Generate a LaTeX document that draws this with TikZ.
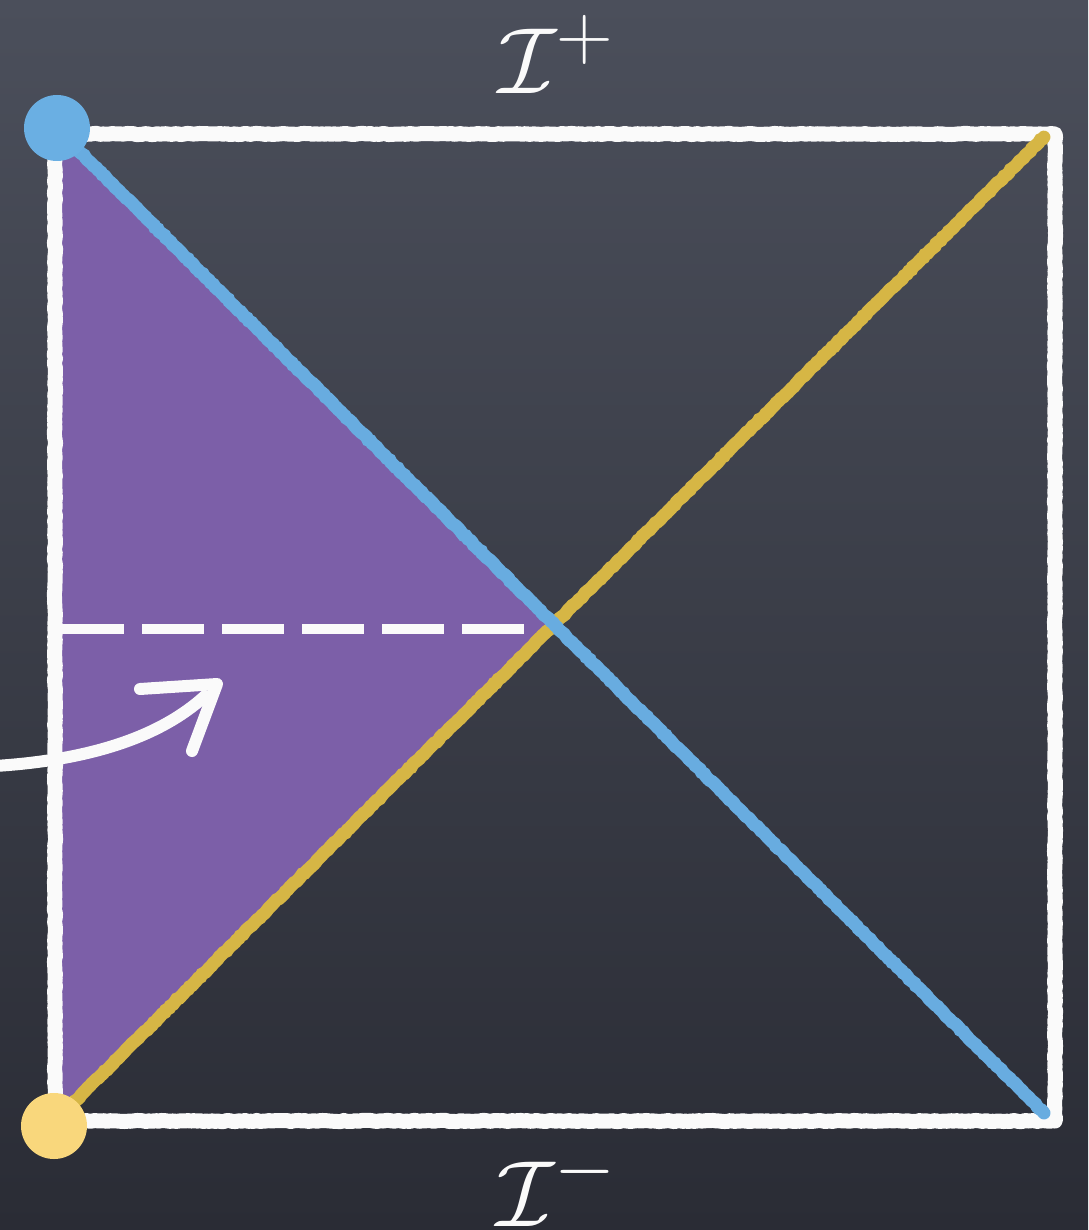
\documentclass[tikz,border=0pt]{standalone}
\usetikzlibrary{decorations.pathmorphing}
\definecolor{bgtop}{HTML}{4B4F5B}
\definecolor{bgbot}{HTML}{2A2C35}
\definecolor{chalkwhite}{HTML}{FAFAFA}
\definecolor{chalkblue}{HTML}{68ACE0}
\definecolor{chalkyellow}{HTML}{D6B645}
\definecolor{dotblue}{HTML}{6AAFE3}
\definecolor{dotyellow}{HTML}{F9D77C}
\definecolor{regionpurple}{HTML}{7C5FA8}
\newcommand{\biglbl}[1]{\scalebox{3.78}{\Huge$#1$}}
\begin{document}
\begin{tikzpicture}[x=1pt,y=-1pt,
  rough/.style={decorate,decoration={random steps,segment length=3pt,amplitude=0.6pt}},
  border/.style={draw=chalkwhite,line width=15pt,line join=round,rough},
  chalkline/.style={line width=13pt,line cap=round,rough},
  dashline/.style={draw=chalkwhite,line width=10pt,dash pattern=on 62pt off 18pt},
  arrowline/.style={draw=chalkwhite,line width=12pt,line cap=round,line join=round},
  dot/.style={circle,inner sep=0pt,minimum size=66pt,draw=none},
  lbl/.style={text=chalkwhite,anchor=base,inner sep=0pt}]
\shade[top color=bgtop,bottom color=bgbot] (0,0) rectangle (1088,1230);
\useasboundingbox (0,0) rectangle (1088,1230);
% corners of the square
\coordinate (TL) at (55,134);
\coordinate (TR) at (1055,134);
\coordinate (BR) at (1055,1121);
\coordinate (BL) at (55,1121);
% region
\coordinate (PT) at (62,140);
\coordinate (PX) at (548,626);
\coordinate (PB) at (62,1116);
\fill[regionpurple] (PT) -- (PX) -- (PB) -- cycle;
% dashed slice
\coordinate (D0) at (62,629);
\coordinate (D1) at (532,629);
\draw[dashline] (D0) -- (D1);
% border
\draw[border] (TL) -- (TR) -- (BR) -- (BL) -- cycle;
% light rays
\coordinate (Y0) at (58,1118);
\coordinate (Y1) at (1044,137);
\coordinate (B0) at (60,132);
\coordinate (B1) at (1044,1113);
\draw[chalkline,chalkyellow] (Y0) -- (Y1);
\draw[chalkline,chalkblue] (B0) -- (B1);
% dots
\node[dot,fill=dotblue] (bdot) at (57,128) {};
\node[dot,fill=dotyellow] (ydot) at (54,1126) {};
% arrow
\coordinate (A0) at (-5,766);
\coordinate (A1) at (205,696);
\draw[arrowline] (A0) .. controls (90,760) and (160,737) .. (A1);
\coordinate (H1) at (140,689);
\coordinate (H0) at (217,684);
\coordinate (H2) at (192,751);
\draw[arrowline] (H1) -- (H0) -- (H2);
% labels
\node[lbl] (scriplus) at (557,94) {\biglbl{\mathcal{I}^{+}}};
\node[lbl] (scriminus) at (557,1226) {\biglbl{\mathcal{I}^{-}}};
\end{tikzpicture}
\end{document}
